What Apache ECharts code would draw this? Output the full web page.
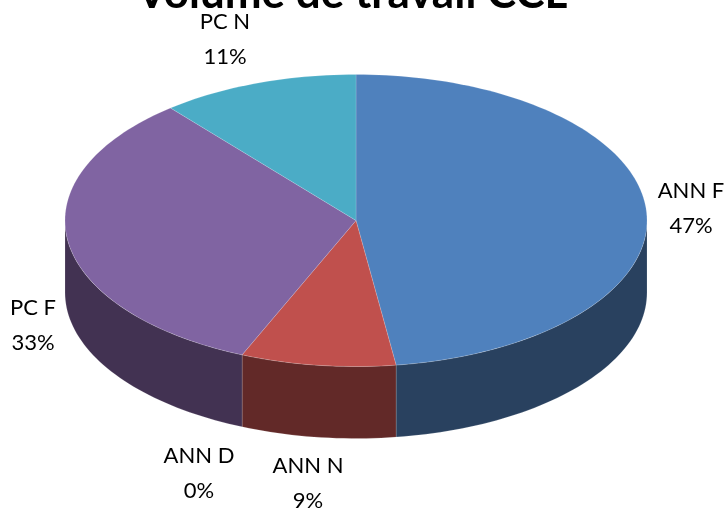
<!DOCTYPE html>
<html><head><meta charset="utf-8">
<style>html,body{margin:0;padding:0;background:#fff}#c{width:726px;height:509px}</style>
<script src="https://cdn.jsdelivr.net/npm/echarts@6/dist/echarts.min.js"></script>
</head><body><div id="c"></div>
<script>
const categories = ['ANN F','ANN N','ANN D','PC F','PC N'];
const values = [47.8, 8.6, 0, 32.6, 11];
const percentLabels = ['47%','9%','0%','33%','11%'];
const topColors = ['#4F81BD','#C0504D','#9BBB59','#8064A2','#4BACC6'];
const sideColors = ['#29415F','#622928','#4C5F2A','#423252','#255A68'];
const labelAnchors = [[691,208.5],[308,483.5],[199,473.5],[33,325.5],[225,39.5]];

const cx = 356, cy = 220.5, rx = 291, ry = 146, depth = 72;
const total = values.reduce((a,b)=>a+b,0);
const pt = (deg, dy) => {
  const r = deg*Math.PI/180;
  return [cx + rx*Math.sin(r), cy - ry*Math.cos(r) + (dy||0)];
};
const arc = (a, b, dy) => {
  const out = [], n = Math.max(2, Math.ceil((b-a)/1.5));
  for (let i=0;i<=n;i++) out.push(pt(a+(b-a)*i/n, dy));
  return out;
};
const seam = {stroke:'rgba(255,255,255,0.3)', lineWidth:0.5};

function renderItem(params, api){
  const i = params.dataIndex;
  let start = 0;
  for (let k=0;k<i;k++) start += values[k]/total*360;
  const end = start + api.value(1)/total*360;
  const children = [];
  const fa = Math.max(start,90), fb = Math.min(end,270);
  if (fb > fa){
    children.push({type:'polygon', shape:{points: arc(fa,fb,0).concat(arc(fa,fb,depth).reverse())},
      style:{fill:sideColors[i], ...seam}});
  }
  if (end > start){
    children.push({type:'polygon', shape:{points: [[cx,cy]].concat(arc(start,end,0))},
      style:{fill:topColors[i], ...seam}});
  }
  const a = labelAnchors[i];
  children.push({type:'text', x:a[0], y:a[1], z2:10, style:{
    text: categories[i]+'\n'+percentLabels[i],
    font:'22px Lato', fill:'#000', align:'center', verticalAlign:'middle', lineHeight:34.5}});
  return {type:'group', children};
}

const chart = echarts.init(document.getElementById('c'), null, {renderer:'canvas'});
chart.setOption({
  animation:false,
  backgroundColor:'#fff',
  title:{text:'Volume de travail CCL', left:347, top:-33, textAlign:'center',
    textStyle:{fontFamily:'Lato', fontWeight:'bold', fontSize:44, color:'#000'}},
  series:[{type:'custom', coordinateSystem:'none', silent:true, renderItem,
    data: categories.map((c,i)=>[c, values[i]])}]
});
</script></body></html>
